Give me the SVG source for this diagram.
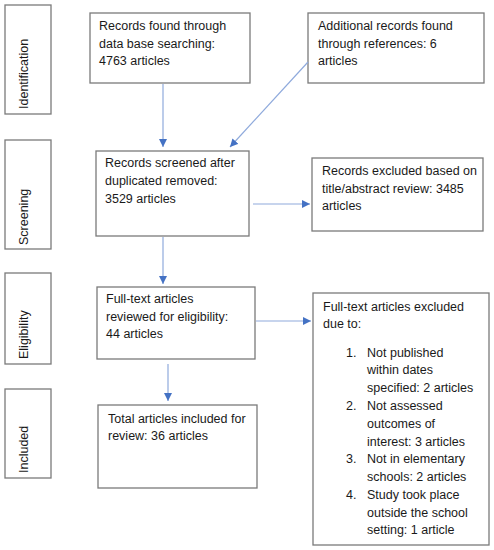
<svg xmlns="http://www.w3.org/2000/svg" width="494" height="550" viewBox="0 0 494 550">
<defs>
<style>
.box{fill:#fff;stroke:#7a7a7a;stroke-width:1.3}
.t{font-family:"Liberation Sans",Arial,sans-serif;font-size:12.5px;fill:#1a1a1a}
.lab{font-family:"Liberation Sans",Arial,sans-serif;font-size:12.5px;fill:#1a1a1a}
.c{stroke:#8faadc;stroke-width:1.2;fill:none}
</style>
<marker id="ah" viewBox="0 0 10 10" refX="10" refY="5" markerWidth="8" markerHeight="8" markerUnits="userSpaceOnUse" orient="auto">
<path d="M0,0 L10,5 L0,10 z" fill="#4472c4"/>
</marker>
</defs>
<rect width="494" height="550" fill="#fff"/>

<g id="stage-identification">
<rect class="box" x="5" y="5" width="46" height="109"/>
<text class="lab" transform="translate(28,109) rotate(-90)">Identification</text>
</g>
<g id="stage-screening">
<rect class="box" x="5" y="140" width="46" height="109"/>
<text class="lab" transform="translate(28,245) rotate(-90)">Screening</text>
</g>
<g id="stage-eligibility">
<rect class="box" x="5" y="273" width="46" height="91"/>
<text class="lab" transform="translate(28,359) rotate(-90)">Eligibility</text>
</g>
<g id="stage-included">
<rect class="box" x="5" y="389" width="46" height="89"/>
<text class="lab" transform="translate(28,473) rotate(-90)">Included</text>
</g>

<g id="node-database">
<rect class="box" x="90" y="13" width="160" height="70"/>
<text class="t" x="99" y="30">Records found through</text>
<text class="t" x="99" y="48">data base searching:</text>
<text class="t" x="99" y="65">4763 articles</text>
</g>
<g id="node-references">
<rect class="box" x="308" y="13" width="176" height="70"/>
<text class="t" x="318" y="30">Additional records found</text>
<text class="t" x="318" y="48">through references: 6</text>
<text class="t" x="318" y="65">articles</text>
</g>
<g id="node-screened">
<rect class="box" x="96" y="151" width="153" height="85"/>
<text class="t" x="105" y="167">Records screened after</text>
<text class="t" x="105" y="185">duplicated removed:</text>
<text class="t" x="105" y="203">3529 articles</text>
</g>
<g id="node-excluded-title">
<rect class="box" x="312" y="158" width="171" height="73"/>
<text class="t" x="322" y="175">Records excluded based on</text>
<text class="t" x="322" y="193">title/abstract review: 3485</text>
<text class="t" x="322" y="210">articles</text>
</g>
<g id="node-fulltext">
<rect class="box" x="97" y="287" width="158" height="72"/>
<text class="t" x="106" y="303">Full-text articles</text>
<text class="t" x="106" y="321">reviewed for eligibility:</text>
<text class="t" x="106" y="338">44 articles</text>
</g>
<g id="node-excluded-fulltext">
<rect class="box" x="313" y="293" width="176" height="252"/>
<text class="t" x="323" y="311">Full-text articles excluded</text>
<text class="t" x="323" y="328">due to:</text>
<text class="t" x="346" y="357">1.</text>
<text class="t" x="367" y="357">Not published</text>
<text class="t" x="367" y="374">within dates</text>
<text class="t" x="367" y="392">specified: 2 articles</text>
<text class="t" x="346" y="410">2.</text>
<text class="t" x="367" y="410">Not assessed</text>
<text class="t" x="367" y="428">outcomes of</text>
<text class="t" x="367" y="446">interest: 3 articles</text>
<text class="t" x="346" y="463">3.</text>
<text class="t" x="367" y="463">Not in elementary</text>
<text class="t" x="367" y="481">schools: 2 articles</text>
<text class="t" x="346" y="499">4.</text>
<text class="t" x="367" y="499">Study took place</text>
<text class="t" x="367" y="517">outside the school</text>
<text class="t" x="367" y="534">setting: 1 article</text>
</g>
<g id="node-included">
<rect class="box" x="98" y="405" width="159" height="83"/>
<text class="t" x="108" y="423">Total articles included for</text>
<text class="t" x="108" y="440">review: 36 articles</text>
</g>

<g id="connectors">
<line class="c" x1="163" y1="84" x2="163" y2="147" marker-end="url(#ah)"/>
<line class="c" x1="308" y1="62" x2="230" y2="147" marker-end="url(#ah)"/>
<line class="c" x1="253" y1="204" x2="310" y2="204" marker-end="url(#ah)"/>
<line class="c" x1="163" y1="237" x2="163" y2="284" marker-end="url(#ah)"/>
<line class="c" x1="256" y1="321" x2="311" y2="321" marker-end="url(#ah)"/>
<line class="c" x1="168" y1="364" x2="168" y2="401" marker-end="url(#ah)"/>
</g>
</svg>
